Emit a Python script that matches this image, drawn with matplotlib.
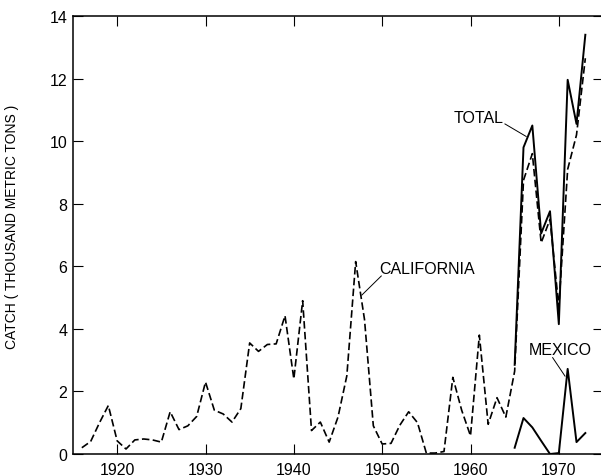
import numpy as np
import matplotlib
matplotlib.use('Agg')
import matplotlib.pyplot as plt

plt.rcParams['font.family'] = ['Liberation Sans', 'DejaVu Sans']

# catch data (thousand metric tons)
cal_years = list(range(1916, 1974))
california = [0.2, 0.4, 1.0, 1.55, 0.42, 0.16, 0.45, 0.48, 0.45, 0.38,
              1.35, 0.78, 0.9, 1.2, 2.3, 1.4, 1.28, 1.02, 1.45, 3.55,
              3.28, 3.5, 3.52, 4.42, 2.4, 4.9, 0.75, 1.02, 0.38, 1.18,
              2.5, 6.15, 4.3, 0.9, 0.32, 0.34, 0.92, 1.35, 1.0, 0.03,
              0.03, 0.08, 2.45, 1.4, 0.58, 3.8, 0.95, 1.8, 1.18, 2.65,
              8.75, 9.6, 6.75, 7.5, 4.7, 9.1, 10.2, 12.65]
recent_years = list(range(1965, 1974))
total = [2.85, 9.8, 10.5, 7.05, 7.76, 4.15, 11.96, 10.55, 13.4]
mexico = [0.2, 1.15, 0.85, 0.42, 0.0, 0.03, 2.72, 0.38, 0.67]

xticks = [1920, 1930, 1940, 1950, 1960, 1970]
yticks = [0, 2, 4, 6, 8, 10, 12, 14]

fig = plt.figure(figsize=(6.01, 4.77), dpi=100)
ax = fig.add_axes([73/601, 22/477, 530/601, 438/477])

ax.plot(cal_years, california, color='black', lw=1.2, dashes=(4.5, 2))
ax.plot(recent_years, total, color='black', lw=1.4)
ax.plot(recent_years, mexico, color='black', lw=1.4)

# labels with leader lines
ax.text(1960.95, 10.76, 'TOTAL', ha='center', va='center', fontsize=11.5)
ax.plot([1963.9, 1966.3], [10.55, 10.15], color='black', lw=0.7)
ax.text(1955.1, 5.93, 'CALIFORNIA', ha='center', va='center', fontsize=11.5)
ax.plot([1949.9, 1947.7], [5.69, 5.08], color='black', lw=0.7)
ax.text(1970.2, 3.35, 'MEXICO', ha='center', va='center', fontsize=11.5)
ax.plot([1969.3, 1970.7], [3.08, 2.49], color='black', lw=0.7)

ax.set_xlim(1915, 1975)
ax.set_ylim(0, 14)
ax.set_xticks(xticks)
ax.set_yticks(yticks)
ax.tick_params(direction='in', length=7, width=0.8, top=True, right=True,
               labelsize=11.5)
ax.tick_params(axis='x', pad=6)
ax.tick_params(axis='y', pad=4)
for s in ax.spines.values():
    s.set_linewidth(1.1)

ax.set_ylabel('CATCH ( THOUSAND METRIC TONS )', fontsize=10)
ax.yaxis.set_label_coords(-0.102, 0.52)

plt.savefig('out.png', dpi=100)
